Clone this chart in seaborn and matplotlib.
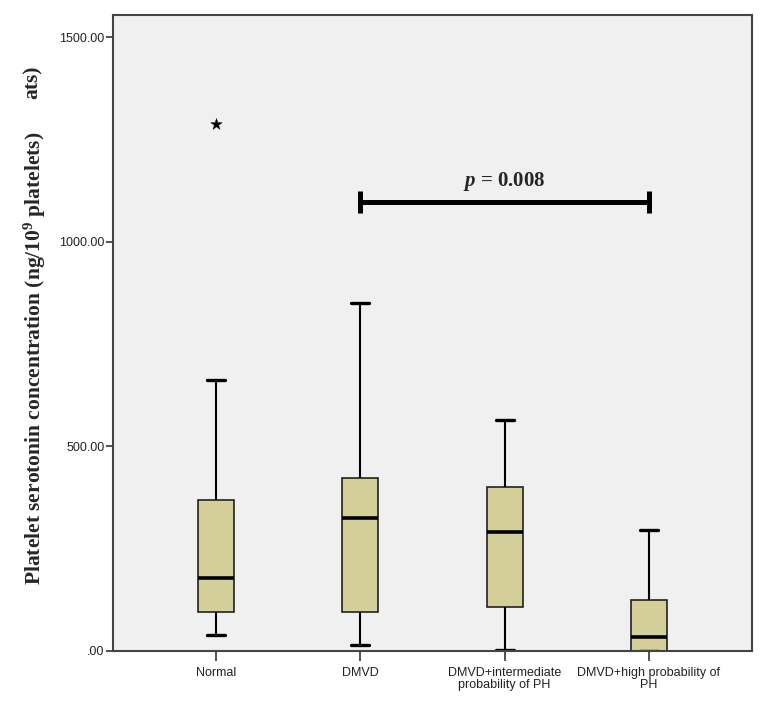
import matplotlib
matplotlib.use('Agg')
import matplotlib.pyplot as plt
import numpy as np
import pandas as pd
import seaborn as sns

# five-number summaries (ng/10^9 platelets)
groups = ['Normal', 'DMVD', 'DMVD+intermediate\nprobability of PH', 'DMVD+high probability of\nPH']
whisker_low = [38, 14, 2, 0]
q1 = [95, 95, 106, 0]
median = [179, 325, 290, 34]
q3 = [369, 423, 400, 124]
whisker_high = [662, 851, 564, 295]

outlier_group = ['Normal']
outlier_value = [1288]

# p-value bracket between DMVD and DMVD+high probability of PH
bracket_from, bracket_to = 1, 3
bracket_y = 1098
p_text = r'$p$ = 0.008'

y_ticks = [0, 500, 1000, 1500]

rows = []
for g, a, b, c, d, e in zip(groups, whisker_low, q1, median, q3, whisker_high):
    for v in (a, b, c, d, e):
        rows.append({'group': g, 'value': v})
df = pd.DataFrame(rows)

sns.set_style('ticks')
plt.rcParams['font.family'] = ['Liberation Sans', 'DejaVu Sans']
plt.rcParams['mathtext.fontset'] = 'custom'
plt.rcParams['mathtext.it'] = 'Liberation Serif:italic:bold'
plt.rcParams['mathtext.rm'] = 'Liberation Serif:bold'

box_color = '#d4cf99'
fig = plt.figure(figsize=(7.65, 7.10), dpi=100)
ax = fig.add_axes([0.1473, 0.0835, 0.8361, 0.8954])
ax.set_facecolor('#f0f0f0')

sns.boxplot(data=df, x='group', y='value', order=groups, color=box_color,
            saturation=1, width=0.25, whis=(0, 100), showfliers=False,
            linecolor='#222222', linewidth=1.2,
            medianprops=dict(color='black', linewidth=2.6),
            whiskerprops=dict(color='black', linewidth=1.5),
            capprops=dict(color='black', linewidth=2.4),
            ax=ax)

sns.scatterplot(x=outlier_group, y=outlier_value, marker='*', s=75,
                color='black', edgecolor='black', linewidth=0.3, ax=ax, zorder=5)

# significance bracket
ax.plot([bracket_from, bracket_to], [bracket_y, bracket_y], color='black', lw=3.6,
        solid_capstyle='butt', zorder=4)
for xb in (bracket_from, bracket_to):
    ax.plot([xb, xb], [bracket_y - 27, bracket_y + 27], color='black', lw=3.6,
            solid_capstyle='butt', zorder=4)
ax.text((bracket_from + bracket_to) / 2, bracket_y + 49, p_text, ha='center', va='center',
        fontsize=15, family='Liberation Serif', fontweight='bold')

ax.set_xlim(-0.72, 3.72)
ax.set_ylim(0, 1555)
ax.set_yticks(y_ticks)
ax.set_yticklabels([f'{v:.2f}'.lstrip('0') if v == 0 else f'{v:.2f}' for v in y_ticks])
ax.set_xlabel('')
ax.set_ylabel('')
ax.tick_params(axis='y', length=5, width=1.2, pad=1, labelsize=9, colors='#333333',
               labelcolor='#222222')
ax.tick_params(axis='x', length=7, width=1.2, pad=5, labelsize=9, colors='#333333',
               labelcolor='#222222')
for lab in ax.get_xticklabels():
    lab.set_linespacing(0.95)

for s in ax.spines.values():
    s.set_visible(True)
    s.set_color('#444444')
    s.set_linewidth(1.5)

fig.text(35 / 765, 1 - 358 / 710, r'Platelet serotonin concentration (ng/10$^9$ platelets)',
         rotation=90, ha='center', va='center', fontsize=15.5,
         family='Liberation Serif', fontweight='bold')
fig.text(33 / 765, 1 - 82 / 710, 'ats)', rotation=90, ha='center', va='center',
         fontsize=15.5, family='Liberation Serif', fontweight='bold')

fig.savefig('out.png', dpi=100)
